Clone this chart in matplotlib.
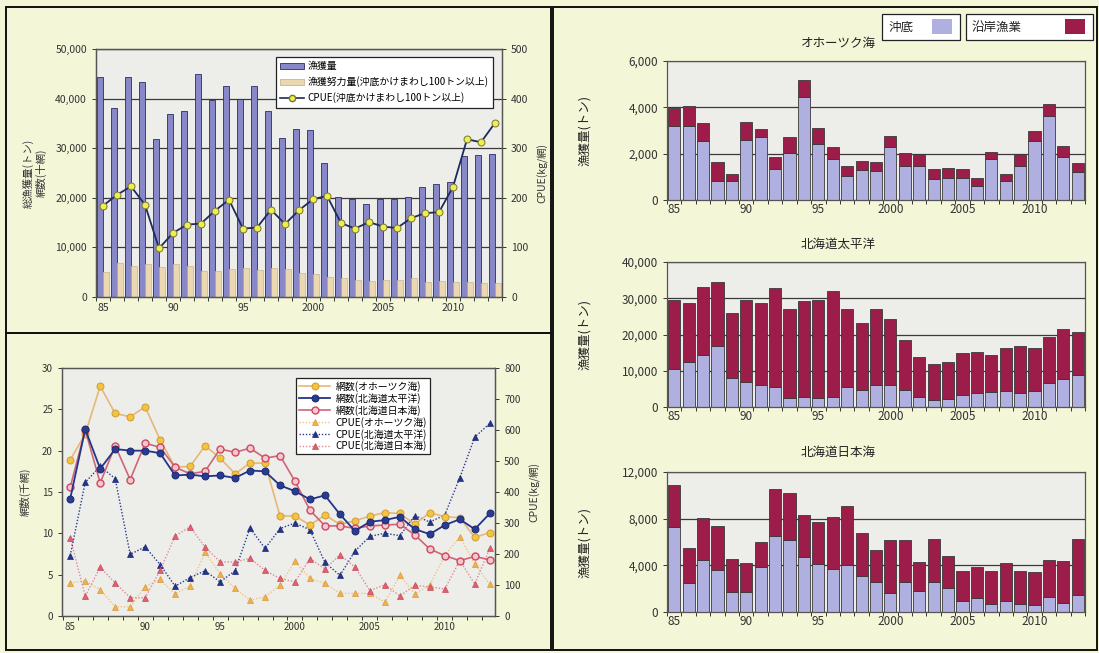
import matplotlib
matplotlib.use("Agg")
import matplotlib.pyplot as plt
import numpy as np
from matplotlib.patches import Rectangle, Patch
from matplotlib.lines import Line2D
from matplotlib.ticker import FuncFormatter, FixedLocator

plt.rcParams['font.family'] = ['Noto Sans CJK JP', 'DejaVu Sans']
plt.rcParams['axes.unicode_minus'] = False

# ---------------- data ----------------
years = list(range(1985, 2014))
label_idx = [0, 5, 10, 15, 20, 25]
year_labels = ['85', '90', '95', '2000', '2005', '2010']

# total catch (t), fishing effort (x10 hauls), CPUE (kg/haul)
catch_total = [44300, 38200, 44300, 43300, 31900, 36900, 37600, 44900, 39800, 42500,
               40000, 42500, 37600, 32000, 33900, 33600, 27100, 20200, 19800, 18800,
               19800, 19800, 20200, 22200, 22800, 23100, 28400, 28600, 28900]
effort = [5100, 6900, 6300, 6600, 6100, 6600, 6300, 5300, 5300, 5600,
          5800, 5400, 5800, 5600, 4900, 4600, 4100, 3800, 3400, 3200,
          3400, 3400, 3800, 3100, 3200, 3000, 3000, 2800, 2800]
cpue_total = [184, 206, 223, 186, 98, 129, 146, 148, 174, 196,
              138, 140, 176, 147, 175, 197, 204, 149, 138, 151,
              142, 139, 159, 169, 171, 222, 318, 312, 351]

# hauls by area (thousand) and CPUE by area (kg/haul)
nets_okhotsk = [18.9, 22.0, 27.8, 24.5, 24.1, 25.3, 21.3, 18.0, 18.1, 20.6,
                19.1, 17.2, 18.5, 18.5, 12.1, 12.1, 11.0, 12.2, 11.1, 11.5,
                12.1, 12.5, 12.4, 11.1, 12.5, 12.0, 11.9, 9.5, 10.1]
nets_pacific = [14.2, 22.6, 17.8, 20.2, 20.0, 20.0, 19.7, 17.0, 17.1, 16.9,
                17.0, 16.7, 17.6, 17.5, 15.8, 15.1, 14.1, 14.6, 12.3, 10.3,
                11.4, 11.6, 12.0, 10.5, 9.9, 11.0, 11.7, 10.5, 12.4]
nets_japansea = [15.6, 22.5, 16.1, 20.6, 16.5, 20.9, 20.4, 18.0, 17.2, 17.5,
                 20.2, 19.8, 20.3, 19.1, 19.4, 16.3, 12.8, 10.9, 10.9, 10.6,
                 10.9, 11.0, 11.1, 9.8, 8.1, 7.3, 6.7, 7.2, 6.8]
cpue_okhotsk = [107, 113, 85, 30, 30, 95, 118, 71, 97, 205,
                136, 89, 51, 62, 99, 177, 121, 105, 73, 73,
                73, 44, 131, 71, 100, 196, 256, 168, 102]
cpue_pacific = [195, 431, 483, 443, 199, 223, 166, 96, 124, 146,
                110, 146, 284, 218, 282, 300, 278, 173, 131, 209,
                257, 267, 259, 324, 303, 326, 446, 577, 621]
cpue_japansea = [253, 64, 157, 107, 59, 59, 147, 258, 288, 222,
                 175, 174, 186, 147, 121, 110, 185, 152, 197, 158,
                 82, 101, 65, 99, 94, 87, 179, 103, 218]

# catch by area (t): offshore trawl / coastal fishery
okh_offshore = [3180, 3180, 2560, 820, 820, 2600, 2700, 1330, 2050, 4440,
                2410, 1760, 1050, 1300, 1260, 2270, 1450, 1450, 900, 970,
                970, 610, 1760, 820, 1470, 2560, 3610, 1840, 1230]
okh_coastal = [770, 890, 750, 830, 320, 770, 360, 530, 680, 720,
               680, 510, 400, 390, 360, 480, 570, 500, 430, 430,
               360, 360, 310, 320, 470, 430, 550, 470, 360]
pac_offshore = [10400, 12300, 14400, 16900, 7900, 6900, 6200, 5600, 2600, 2800,
                2500, 2800, 5600, 4800, 6000, 6000, 4800, 2800, 1900, 2300,
                3200, 3900, 4200, 4400, 3900, 4400, 6700, 7600, 8800]
pac_coastal = [19100, 16400, 18700, 17600, 18000, 22500, 22500, 27100, 24400, 26400,
               26900, 29300, 21400, 18500, 20900, 18400, 13700, 11100, 10100, 10000,
               11600, 11200, 10200, 12000, 13000, 12000, 12500, 14000, 11800]
jsea_offshore = [7250, 2450, 4460, 3600, 1730, 1730, 3880, 6530, 6190, 4750,
                 4120, 3650, 4030, 3110, 2530, 1670, 2530, 1780, 2530, 2070,
                 920, 1210, 720, 920, 720, 630, 1290, 780, 1500]
jsea_coastal = [3600, 3020, 3600, 3800, 2820, 2440, 2160, 4030, 4030, 3600,
                3590, 4490, 5090, 3650, 2790, 4460, 3600, 2540, 3710, 2760,
                2590, 2670, 2790, 3250, 2790, 2820, 3170, 3590, 4740]

# ---------------- style ----------------
W, H = 1099, 653
PAGE = '#f4f6d8'
PLOT_BG = '#ededea'
GRID = '#3a3a3a'
SPINE = '#555555'
comma = FuncFormatter(lambda v, p: f'{int(v):,}')


def box(l, t, r, b):
    return [l / W, 1 - b / H, (r - l) / W, (b - t) / H]


def style_axes(ax, fs=7.5):
    ax.set_facecolor(PLOT_BG)
    for s in ax.spines.values():
        s.set_color(SPINE)
        s.set_linewidth(0.9)
    ax.tick_params(axis='both', labelsize=fs, colors='#333333', length=3, width=0.7)


def year_axis(ax, n):
    ax.xaxis.set_major_locator(FixedLocator(label_idx))
    ax.set_xticklabels(year_labels)
    ax.tick_params(axis='x', which='major', length=0, pad=4)
    ax.xaxis.set_minor_locator(FixedLocator(np.arange(n + 1) - 0.5))
    ax.tick_params(axis='x', which='minor', length=3, width=0.7, color='#333333')


fig = plt.figure(figsize=(W / 100, H / 100), dpi=100)
fig.patch.set_facecolor(PAGE)

x = np.arange(len(years))

# ---------------- panel 1: total catch, effort, CPUE ----------------
ax1 = fig.add_axes(box(96, 49, 502, 297))
style_axes(ax1)
ax1.set_axisbelow(True)
ax1.bar(x - 0.235, catch_total, width=0.45, color='#8888c8', edgecolor='#2c2c66', lw=0.6, zorder=2)
ax1.bar(x + 0.2, effort, width=0.40, color='#ebd7b0', edgecolor='#c9b58e', lw=0.5, zorder=2)
ax1.set_ylim(0, 50000)
ax1.set_yticks(np.arange(0, 50001, 10000))
ax1.yaxis.set_major_formatter(comma)
ax1.grid(axis='y', color=GRID, lw=0.9)
ax1.set_xlim(-0.5, len(years) - 0.5)
year_axis(ax1, len(years))
ax1.set_ylabel('総漁獲量(トン)\n網数(十網)', fontsize=7.5, color='#333333', labelpad=6, linespacing=1.2)

ax1r = ax1.twinx()
ax1r.plot(x, cpue_total, color='#1d2b5e', lw=1.3, marker='o', ms=5,
          mfc='#eeee50', mec='#77772a', mew=0.7, zorder=3)
ax1r.set_ylim(0, 500)
ax1r.set_yticks(np.arange(0, 501, 100))
ax1r.tick_params(axis='y', labelsize=7.5, colors='#333333', length=3, width=0.7)
for s in ax1r.spines.values():
    s.set_color(SPINE)
    s.set_linewidth(0.9)
ax1r.set_ylabel('CPUE(kg/網)', fontsize=7.5, color='#333333', labelpad=6)

h1 = [Patch(facecolor='#8888c8', edgecolor='#2c2c66', lw=0.6),
      Patch(facecolor='#ebd7b0', edgecolor='#c9b58e', lw=0.6),
      Line2D([], [], color='#1d2b5e', lw=1.2, marker='o', ms=4.5, mfc='#eeee50', mec='#77772a')]
lg1 = ax1r.legend(h1, ['漁獲量', '漁獲努力量(沖底かけまわし100トン以上)', 'CPUE(沖底かけまわし100トン以上)'],
                  loc='upper right', bbox_to_anchor=(498 / W, 1 - 52 / H), bbox_transform=fig.transFigure,
                  fontsize=7.1, frameon=True, fancybox=False, framealpha=1, edgecolor='#222222',
                  handlelength=2.4, handleheight=0.55, borderpad=0.45, labelspacing=0.5, handletextpad=0.4)
lg1.get_frame().set_linewidth(0.9)

# ---------------- panel 2: hauls and CPUE by area ----------------
ax2 = fig.add_axes(box(62, 368, 495, 616))
style_axes(ax2, fs=7)
ax2.set_ylim(0, 30)
ax2.set_yticks(np.arange(0, 31, 5))
ax2.set_xlim(-0.55, len(years) - 0.65)
year_axis(ax2, len(years))
ax2.set_ylabel('網数(千網)', fontsize=7.5, color='#333333', labelpad=8)

ax2r = ax2.twinx()
ax2r.set_ylim(0, 800)
ax2r.set_yticks(np.arange(0, 801, 100))
ax2r.tick_params(axis='y', labelsize=7, colors='#333333', length=3, width=0.7)
for s in ax2r.spines.values():
    s.set_color(SPINE)
    s.set_linewidth(0.9)
ax2r.set_ylabel('CPUE(kg/網)', fontsize=7.5, color='#333333', labelpad=6)

# haul counts share the right-hand axes, rescaled from the 0-30 left scale
to_right = 800 / 30
series = [
    (cpue_okhotsk, dict(color='#efc485', lw=1.0, ls=(0, (1, 1.3)), marker='^', ms=4.5,
                        mfc='#f0b04a', mec='#d89a3c', mew=0.5), 'CPUE(オホーツク海)'),
    (cpue_pacific, dict(color='#2a3a8c', lw=1.0, ls=(0, (1, 1.3)), marker='^', ms=4.5,
                        mfc='#25348a', mec='#1d2a72', mew=0.5), 'CPUE(北海道太平洋)'),
    (cpue_japansea, dict(color='#e08a98', lw=1.0, ls=(0, (1, 1.3)), marker='^', ms=4.5,
                         mfc='#e0606e', mec='#c84a5a', mew=0.5), 'CPUE(北海道日本海)'),
    ([v * to_right for v in nets_okhotsk], dict(color='#e6b877', lw=1.2, marker='o', ms=5,
                                                mfc='#f2c440', mec='#d69a30', mew=0.7), '網数(オホーツク海)'),
    ([v * to_right for v in nets_japansea], dict(color='#cf6678', lw=1.2, marker='o', ms=5,
                                                 mfc='#f6c6cc', mec='#cc4862', mew=1.0), '網数(北海道日本海)'),
    ([v * to_right for v in nets_pacific], dict(color='#24348a', lw=1.3, marker='o', ms=5,
                                                mfc='#2a3b92', mec='#1a2870', mew=0.7), '網数(北海道太平洋)'),
]
handles = {}
for vals, kw, name in series:
    ln, = ax2r.plot(x, vals, **kw)
    handles[name] = ln

order = ['網数(オホーツク海)', '網数(北海道太平洋)', '網数(北海道日本海)',
         'CPUE(オホーツク海)', 'CPUE(北海道太平洋)', 'CPUE(北海道日本海)']
lg2 = ax2r.legend([handles[k] for k in order], order, loc='upper left',
                  bbox_to_anchor=(291 / W, 1 - 373 / H), bbox_transform=fig.transFigure,
                  fontsize=7.1, frameon=True, fancybox=False, framealpha=1, edgecolor='#222222',
                  handlelength=3.2, borderpad=0.3, labelspacing=0.1, handletextpad=0.5)
lg2.get_frame().set_linewidth(0.9)

# ---------------- panel 3: catch by area (stacked) ----------------
C_OFF = '#b0b0e0'
C_COAST = '#9d1d4a'
EDGE = '#3a3a3a'
areas = [
    ('オホーツク海', okh_offshore, okh_coastal, 6000, 2000, (61, 200), 43),
    ('北海道太平洋', pac_offshore, pac_coastal, 40000, 10000, (262, 407), 244),
    ('北海道日本海', jsea_offshore, jsea_coastal, 12000, 4000, (472, 612), 452),
]
for title, off, coast, ymax, step, (t, b), ty in areas:
    ax = fig.add_axes(box(667, t, 1085, b))
    style_axes(ax, fs=8.5)
    ax.set_axisbelow(True)
    ax.bar(x, off, width=0.84, color=C_OFF, edgecolor=EDGE, lw=0.6, zorder=2)
    ax.bar(x, coast, bottom=off, width=0.84, color=C_COAST, edgecolor=EDGE, lw=0.6, zorder=2)
    ax.set_ylim(0, ymax)
    ax.set_yticks(np.arange(0, ymax + 1, step))
    ax.yaxis.set_major_formatter(comma)
    ax.grid(axis='y', color=GRID, lw=0.9)
    ax.set_xlim(-0.5, len(years) - 0.5)
    year_axis(ax, len(years))
    ax.tick_params(axis='x', which='major', labelsize=8.5, pad=2)
    fig.text(838 / W, 1 - ty / H, title, ha='center', va='center', fontsize=9, color='#222222')
    fig.text(585 / W, 1 - (t + b) / 2 / H, '漁獲量(トン)', rotation=90, ha='center', va='center',
             fontsize=9, color='#222222')

# area legend: two framed boxes, label left of swatch
for (l, r), lab, col in [((882, 960), '沖底', C_OFF), ((966, 1093), '沿岸漁業', C_COAST)]:
    t, b = 14, 40
    fig.patches.append(Rectangle((l / W, 1 - b / H), (r - l) / W, (b - t) / H, transform=fig.transFigure,
                                 facecolor='white', edgecolor='#222222', lw=0.9))
    fig.text((l + 6) / W, 1 - (t + b) / 2 / H, lab, ha='left', va='center', fontsize=9, color='#222222')
    fig.patches.append(Rectangle(((r - 28) / W, 1 - (b - 6) / H), 20 / W, 15 / H, transform=fig.transFigure,
                                 facecolor=col, edgecolor='none'))

# panel frames
for l, t, r, b in [(6, 7, 551, 333), (6, 333, 551, 650), (553, 7, 1097, 650)]:
    fig.patches.append(Rectangle((l / W, 1 - b / H), (r - l) / W, (b - t) / H, transform=fig.transFigure,
                                 facecolor='none', edgecolor='#111111', lw=1.4))

fig.savefig('out.png', dpi=100, facecolor=fig.get_facecolor())
